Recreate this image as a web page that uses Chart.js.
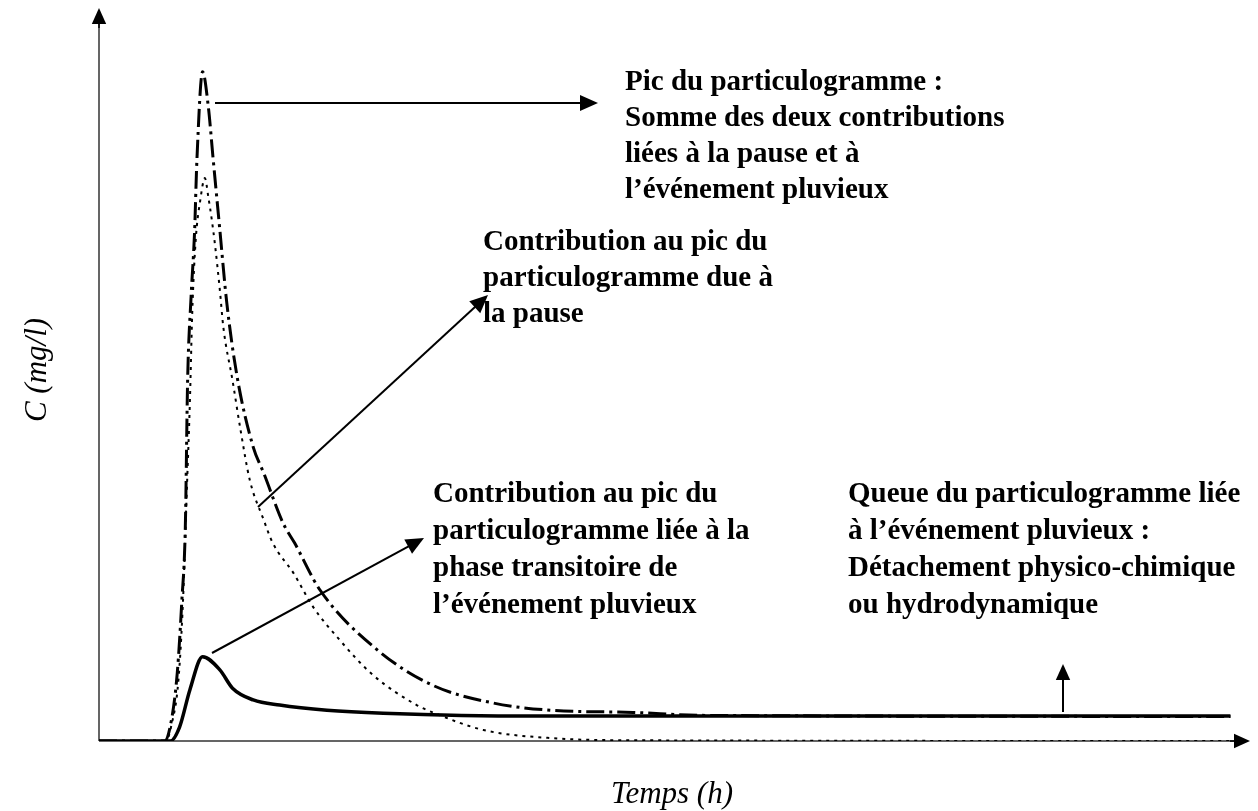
<!DOCTYPE html>
<html>
<head>
<meta charset="utf-8">
<script src="https://cdn.jsdelivr.net/npm/chart.js@4/dist/chart.umd.min.js"></script>
<style>
  html, body { margin: 0; padding: 0; background: #fff; }
  #wrap { width: 1258px; height: 811px; position: relative; }
</style>
</head>
<body>
<div id="wrap"><canvas id="chartParticulo" width="1258" height="811"></canvas></div>
<script>
// Temps (h) / C (mg/l), arbitrary units
const sumT   = [0, 5.7, 6.3, 6.8, 7.2, 7.5, 7.7, 8.0, 8.3, 8.5, 9.0, 9.5, 9.9, 10.5, 11.1, 12.0, 13.4, 14.3, 16.0, 17.0, 19.2, 24.2, 29.0, 34.2, 39.2, 46.4, 52.2, 98.3];
const sumC   = [0, 0, 2.9, 9.3, 19.2, 29.2, 49.2, 60.6, 69.3, 79.0, 91.3, 86.5, 79.7, 69.7, 59.8, 49.7, 40.1, 36.6, 29.7, 27.0, 20.6, 12.4, 7.6, 5.2, 4.2, 3.9, 3.5, 3.35];

const pauseT = [0, 5.8, 6.3, 6.9, 7.3, 7.6, 7.9, 8.1, 8.4, 8.8, 9.2, 9.5, 9.8, 10.1, 10.5, 10.8, 11.6, 12.3, 13.1, 14.3, 15.1, 16.9, 18.6, 20.9, 23.8, 27.6, 29.0, 33.4, 39.2, 46.4, 99.1];
const pauseC = [0, 0, 2.2, 8.3, 19.2, 32.9, 46.5, 58.4, 68.3, 73.8, 76.8, 74.2, 71.1, 67.4, 61.5, 56.5, 49.2, 42.4, 35.6, 30.2, 27.0, 22.9, 18.3, 13.8, 9.0, 4.9, 3.9, 1.5, 0.4, 0.1, 0];

const eventT = [0, 6.2, 7.0, 7.9, 9.0, 10.5, 11.6, 13.4, 15.7, 19.8, 24.7, 37.7, 98.3];
const eventC = [0, 0, 1.9, 7.0, 11.5, 9.7, 7.2, 5.6, 4.9, 4.2, 3.8, 3.4, 3.4];

const toPoints = (t, c) => t.map((x, i) => ({ x: x, y: c[i] }));

// annotation texts
const noteSum   = ['Pic du particulogramme :', 'Somme des deux contributions', 'liées à la pause et à', 'l\u2019événement pluvieux'];
const notePause = ['Contribution au pic du', 'particulogramme due à', 'la pause'];
const noteEvent = ['Contribution au pic du', 'particulogramme liée à la', 'phase transitoire de', 'l\u2019événement pluvieux'];
const noteTail  = ['Queue du particulogramme liée', 'à l\u2019événement pluvieux :', 'Détachement physico-chimique', 'ou hydrodynamique'];

function arrow(ctx, x1, y1, x2, y2, head, width) {
    const a = Math.atan2(y2 - y1, x2 - x1);
    ctx.save();
    ctx.strokeStyle = '#000';
    ctx.fillStyle = '#000';
    ctx.lineWidth = width;
    ctx.beginPath();
    ctx.moveTo(x1, y1);
    ctx.lineTo(x2 - Math.cos(a) * head * 0.8, y2 - Math.sin(a) * head * 0.8);
    ctx.stroke();
    ctx.beginPath();
    ctx.moveTo(x2, y2);
    ctx.lineTo(x2 - head * Math.cos(a) + head * 0.45 * Math.sin(a), y2 - head * Math.sin(a) - head * 0.45 * Math.cos(a));
    ctx.lineTo(x2 - head * Math.cos(a) - head * 0.45 * Math.sin(a), y2 - head * Math.sin(a) + head * 0.45 * Math.cos(a));
    ctx.closePath();
    ctx.fill();
    ctx.restore();
}

function textBlock(ctx, lines, x, y, lh) {
    ctx.save();
    ctx.fillStyle = '#000';
    ctx.font = 'bold 29px "Liberation Serif", "Times New Roman", serif';
    ctx.textBaseline = 'middle';
    lines.forEach((l, i) => ctx.fillText(l, x, y + i * lh));
    ctx.restore();
}

const axesPlugin = {
    id: 'axesPlugin',
    beforeDatasetsDraw(chart) {
        const ctx = chart.ctx;
        const a = chart.chartArea;
        ctx.save();
        ctx.strokeStyle = '#333';
        ctx.lineWidth = 1.5;
        ctx.beginPath();
        ctx.moveTo(a.left, a.bottom);
        ctx.lineTo(a.left, a.top + 10);
        ctx.moveTo(a.left, a.bottom);
        ctx.lineTo(a.right - 10, a.bottom);
        ctx.stroke();
        ctx.restore();
        arrow(ctx, a.left, a.top + 20, a.left, a.top, 16, 1.5);
        arrow(ctx, a.right - 20, a.bottom, a.right, a.bottom, 16, 1.5);

        // axis titles
        ctx.save();
        ctx.fillStyle = '#000';
        ctx.font = 'italic 31px "Liberation Serif", "Times New Roman", serif';
        ctx.textAlign = 'center';
        ctx.textBaseline = 'middle';
        ctx.fillText('Temps (h)', 672, 795);
        ctx.translate(38, 370);
        ctx.rotate(-Math.PI / 2);
        ctx.fillText('C (mg/l)', 0, 0);
        ctx.restore();
    },
    afterDraw(chart) {
        const ctx = chart.ctx;
        arrow(ctx, 215, 103, 598, 103, 18, 2);
        arrow(ctx, 258, 507, 488, 295, 18, 2);
        arrow(ctx, 212, 653, 424, 538, 18, 2);
        arrow(ctx, 1063, 712, 1063, 664, 16, 2);

        textBlock(ctx, noteSum, 625, 83, 36);
        textBlock(ctx, notePause, 483, 243, 36);
        textBlock(ctx, noteEvent, 433, 495, 37);
        textBlock(ctx, noteTail, 848, 495, 37);
    }
};

const ctxParticulo = document.getElementById('chartParticulo').getContext('2d');
const chart = new Chart(ctxParticulo, {
    type: 'line',
    data: {
        datasets: [
            { label: 'Somme', data: toPoints(sumT, sumC), borderColor: '#000', borderWidth: 3, borderDash: [18, 5, 3, 5], pointRadius: 0, cubicInterpolationMode: 'monotone', fill: false },
            { label: 'Pause', data: toPoints(pauseT, pauseC), borderColor: '#000', borderWidth: 2, borderDash: [3, 5], pointRadius: 0, cubicInterpolationMode: 'monotone', fill: false },
            { label: 'Transitoire', data: toPoints(eventT, eventC), borderColor: '#000', borderWidth: 3.5, pointRadius: 0, cubicInterpolationMode: 'monotone', fill: false }
        ]
    },
    options: {
        responsive: false,
        animation: false,
        layout: { padding: { left: 99, right: 8, top: 8, bottom: 70 } },
        plugins: { legend: { display: false }, tooltip: { enabled: false } },
        scales: {
            x: { type: 'linear', min: 0, max: 100, display: false },
            y: { type: 'linear', min: 0, max: 100, display: false }
        }
    },
    plugins: [axesPlugin]
});
</script>
</body>
</html>
